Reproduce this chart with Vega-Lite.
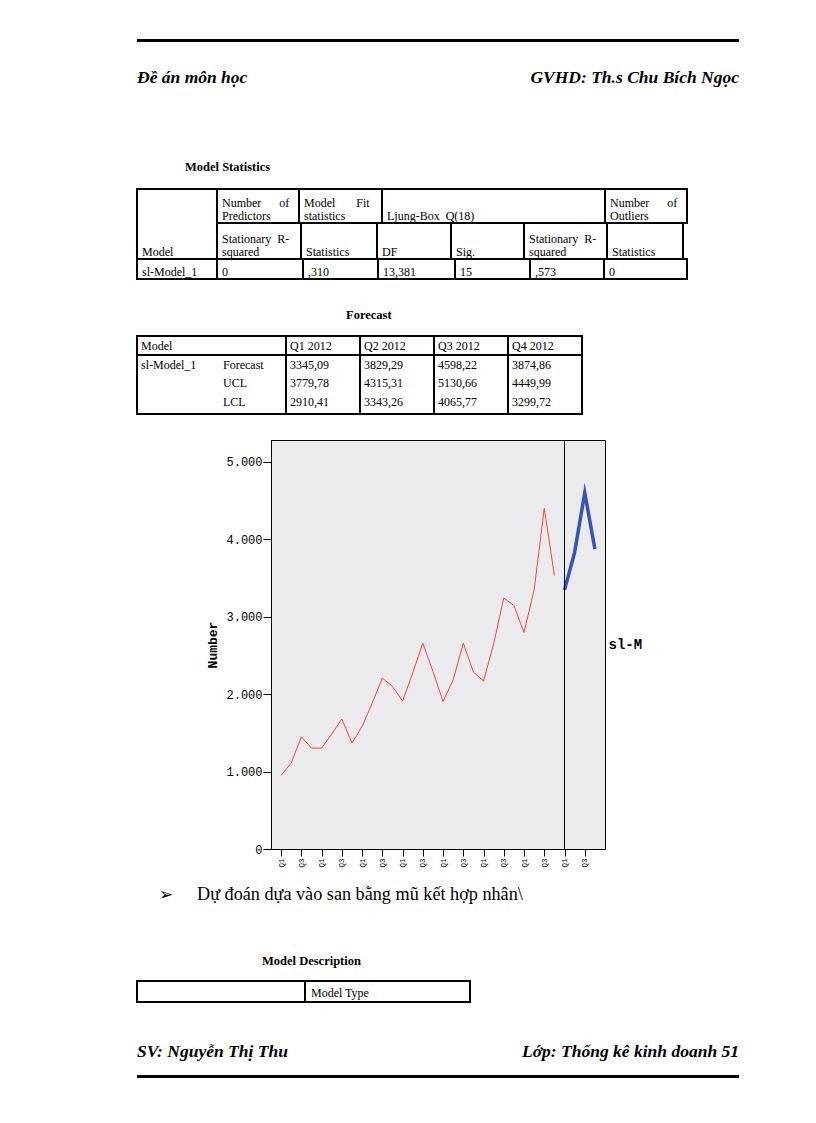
{
 "$schema": "https://vega.github.io/schema/vega-lite/v6.json",
 "padding": {"left": 136, "top": 39, "right": 77, "bottom": 45},
 "autosize": {"type": "pad"},
 "background": "white",
 "data": {"values": [{}]},
 "config": {
  "view": {"stroke": null},
  "text": {"font": "Liberation Serif", "fontSize": 12, "color": "black", "align": "left"}
 },
 "spacing": 0,
 "bounds": "flush",
 "center": true,
 "vconcat": [
  {"width": 602, "height": 3, "mark": {"type": "rect", "color": "black"}},
  {"width": 602, "height": 72,
   "layer": [
    {"mark": {"type": "text", "text": "Đề án môn học", "fontSize": 17.5, "fontStyle": "italic", "fontWeight": "bold", "align": "left"},
     "encoding": {"x": {"datum": 0, "type": "quantitative", "scale": {"domain": [0, 1]}, "axis": null}}},
    {"mark": {"type": "text", "text": "GVHD: Th.s Chu Bích Ngọc", "fontSize": 17.5, "fontStyle": "italic", "fontWeight": "bold", "align": "right"},
     "encoding": {"x": {"datum": 1, "type": "quantitative", "scale": {"domain": [0, 1]}, "axis": null}}}
   ]},
  {"width": 602, "height": 75,
   "mark": {"type": "text", "text": "Model Statistics", "fontWeight": "bold", "fontSize": 12.5, "dx": 48, "dy": 15.5},
   "encoding": {"x": {"datum": 0, "type": "quantitative", "scale": {"domain": [0, 1]}, "axis": null}}},
  {"width": 602, "height": 90,
   "data": {"values": [
    {"c0": 0, "c1": 1, "r0": 0, "r1": 2, "t": [" ", "Model"]},
    {"c0": 0, "c1": 1, "r0": 2, "r1": 3, "t": [" ", "sl-Model_1"]},
    {"c0": 1, "c1": 2, "r0": 0, "r1": 1, "t": ["Number\u00a0\u00a0\u00a0\u00a0\u00a0\u00a0of", "Predictors"]},
    {"c0": 2, "c1": 7, "r0": 0, "r1": 1, "t": ["Model\u00a0\u00a0\u00a0\u00a0\u00a0\u00a0\u00a0Fit", "statistics"]},
    {"c0": 7, "c1": 13, "r0": 0, "r1": 1, "t": [" ", "Ljung-Box\u00a0\u00a0Q(18)"]},
    {"c0": 13, "c1": 16, "r0": 0, "r1": 1, "t": ["Number\u00a0\u00a0\u00a0\u00a0\u00a0\u00a0of", "Outliers"]},
    {"c0": 1, "c1": 3, "r0": 1, "r1": 2, "t": ["Stationary\u00a0\u00a0R-", "squared"]},
    {"c0": 3, "c1": 5, "r0": 1, "r1": 2, "t": [" ", "Statistics"]},
    {"c0": 5, "c1": 8, "r0": 1, "r1": 2, "t": [" ", "DF"]},
    {"c0": 8, "c1": 10, "r0": 1, "r1": 2, "t": [" ", "Sig."]},
    {"c0": 10, "c1": 14, "r0": 1, "r1": 2, "t": ["Stationary\u00a0\u00a0R-", "squared"]},
    {"c0": 14, "c1": 15, "r0": 1, "r1": 2, "t": [" ", "Statistics"]},
    {"c0": 1, "c1": 4, "r0": 2, "r1": 3, "t": [" ", "0"]},
    {"c0": 4, "c1": 6, "r0": 2, "r1": 3, "t": [" ", ",310"]},
    {"c0": 6, "c1": 9, "r0": 2, "r1": 3, "t": [" ", "13,381"]},
    {"c0": 9, "c1": 11, "r0": 2, "r1": 3, "t": [" ", "15"]},
    {"c0": 11, "c1": 12, "r0": 2, "r1": 3, "t": [" ", ",573"]},
    {"c0": 12, "c1": 16, "r0": 2, "r1": 3, "t": [" ", "0"]}
   ]},
   "encoding": {
    "x": {"field": "c0", "type": "quantitative", "axis": null,
     "scale": {"domain": [0,1,2,3,4,5,6,7,8,9,10,11,12,13,14,15,16], "range": [0,80,162,164,166,240,241,245,314,318,387,393,467,468,470,546,550], "nice": false, "zero": false}}
   },
   "layer": [
    {"mark": {"type": "rect", "fill": "transparent", "stroke": "black", "strokeWidth": 2},
     "encoding": {
      "x2": {"field": "c1"},
      "y": {"field": "r0", "type": "quantitative", "axis": null, "scale": {"domain": [0,1,2,3], "range": [0,34,70,90], "nice": false, "zero": false}},
      "y2": {"field": "r1"}}},
    {"mark": {"type": "text", "align": "left", "baseline": "alphabetic", "dx": 5, "dy": -16, "lineHeight": 12.5},
     "encoding": {
      "y": {"field": "r1", "type": "quantitative", "axis": null, "scale": {"domain": [0,1,2,3], "range": [0,34,70,90], "nice": false, "zero": false}},
      "text": {"field": "t", "type": "nominal"}}}
   ]},
  {"width": 602, "height": 57,
   "mark": {"type": "text", "text": "Forecast", "fontWeight": "bold", "fontSize": 12.5, "dx": 209, "dy": 7.5},
   "encoding": {"x": {"datum": 0, "type": "quantitative", "scale": {"domain": [0, 1]}, "axis": null}}},
  {"width": 602, "height": 78,
   "encoding": {
    "x": {"field": "c0", "type": "quantitative", "axis": null,
     "scale": {"domain": [0,1,2,3,4,5,6], "range": [0,82,149,223,297,371,445], "nice": false, "zero": false}}
   },
   "layer": [
    {"data": {"values": [
      {"c0": 0, "c1": 2, "r0": 0, "r1": 1}, {"c0": 2, "c1": 3, "r0": 0, "r1": 1}, {"c0": 3, "c1": 4, "r0": 0, "r1": 1},
      {"c0": 4, "c1": 5, "r0": 0, "r1": 1}, {"c0": 5, "c1": 6, "r0": 0, "r1": 1},
      {"c0": 0, "c1": 2, "r0": 1, "r1": 2}, {"c0": 2, "c1": 3, "r0": 1, "r1": 2}, {"c0": 3, "c1": 4, "r0": 1, "r1": 2},
      {"c0": 4, "c1": 5, "r0": 1, "r1": 2}, {"c0": 5, "c1": 6, "r0": 1, "r1": 2}
     ]},
     "mark": {"type": "rect", "fill": "transparent", "stroke": "black", "strokeWidth": 2},
     "encoding": {
      "x2": {"field": "c1"},
      "y": {"field": "r0", "type": "quantitative", "axis": null, "scale": {"domain": [0,1,2], "range": [0,19,78], "nice": false, "zero": false}},
      "y2": {"field": "r1"}}},
    {"data": {"values": [
      {"c0": 0, "r1": 1, "t": ["Model"]}, {"c0": 2, "r1": 1, "t": ["Q1 2012"]}, {"c0": 3, "r1": 1, "t": ["Q2 2012"]},
      {"c0": 4, "r1": 1, "t": ["Q3 2012"]}, {"c0": 5, "r1": 1, "t": ["Q4 2012"]}
     ]},
     "mark": {"type": "text", "align": "left", "baseline": "bottom", "dx": 4, "dy": -2},
     "encoding": {
      "y": {"field": "r1", "type": "quantitative", "axis": null, "scale": {"domain": [0,1,2], "range": [0,19,78], "nice": false, "zero": false}},
      "text": {"field": "t", "type": "nominal"}}},
    {"data": {"values": [
      {"c0": 0, "r1": 2, "t": ["sl-Model_1", " ", " "]},
      {"c0": 1, "r1": 2, "t": ["Forecast", "UCL", "LCL"]},
      {"c0": 2, "r1": 2, "t": ["3345,09", "3779,78", "2910,41"]},
      {"c0": 3, "r1": 2, "t": ["3829,29", "4315,31", "3343,26"]},
      {"c0": 4, "r1": 2, "t": ["4598,22", "5130,66", "4065,77"]},
      {"c0": 5, "r1": 2, "t": ["3874,86", "4449,99", "3299,72"]}
     ]},
     "mark": {"type": "text", "align": "left", "baseline": "alphabetic", "dx": 4, "dy": -45, "lineHeight": 18.3},
     "encoding": {
      "y": {"field": "r1", "type": "quantitative", "axis": null, "scale": {"domain": [0,1,2], "range": [0,19,78], "nice": false, "zero": false}},
      "text": {"field": "t", "type": "nominal"}}}
   ]},
  {"width": 602, "height": 26, "mark": {"type": "text", "text": ""}},
  {"width": 334, "height": 409,
   "view": {"fill": "#ebeaed", "stroke": "black", "strokeWidth": 1},
   "data": {"values": [
    {"q": "Q1 2005", "v": 950, "s": "obs"},
    {"q": "Q2 2005", "v": 1110, "s": "obs"},
    {"q": "Q3 2005", "v": 1449, "s": "obs"},
    {"q": "Q4 2005", "v": 1303, "s": "obs"},
    {"q": "Q1 2006", "v": 1303, "s": "obs"},
    {"q": "Q2 2006", "v": 1484, "s": "obs"},
    {"q": "Q3 2006", "v": 1677, "s": "obs"},
    {"q": "Q4 2006", "v": 1368, "s": "obs"},
    {"q": "Q1 2007", "v": 1582, "s": "obs"},
    {"q": "Q2 2007", "v": 1884, "s": "obs"},
    {"q": "Q3 2007", "v": 2206, "s": "obs"},
    {"q": "Q4 2007", "v": 2098, "s": "obs"},
    {"q": "Q1 2008", "v": 1910, "s": "obs"},
    {"q": "Q2 2008", "v": 2271, "s": "obs"},
    {"q": "Q3 2008", "v": 2658, "s": "obs"},
    {"q": "Q4 2008", "v": 2292, "s": "obs"},
    {"q": "Q1 2009", "v": 1905, "s": "obs"},
    {"q": "Q2 2009", "v": 2185, "s": "obs"},
    {"q": "Q3 2009", "v": 2658, "s": "obs"},
    {"q": "Q4 2009", "v": 2284, "s": "obs"},
    {"q": "Q1 2010", "v": 2168, "s": "obs"},
    {"q": "Q2 2010", "v": 2650, "s": "obs"},
    {"q": "Q3 2010", "v": 3239, "s": "obs"},
    {"q": "Q4 2010", "v": 3143, "s": "obs"},
    {"q": "Q1 2011", "v": 2795, "s": "obs"},
    {"q": "Q2 2011", "v": 3346, "s": "obs"},
    {"q": "Q3 2011", "v": 4400, "s": "obs"},
    {"q": "Q4 2011", "v": 3530, "s": "obs"},
    {"q": "Q1 2012", "v": 3345.09, "s": "fc"},
    {"q": "Q2 2012", "v": 3829.29, "s": "fc"},
    {"q": "Q3 2012", "v": 4598.22, "s": "fc"},
    {"q": "Q4 2012", "v": 3874.86, "s": "fc"}
   ]},
   "encoding": {
    "x": {"field": "q", "type": "ordinal", "sort": null,
     "scale": {"type": "point", "padding": 2.23, "domain": ["Q1 2005","Q2 2005","Q3 2005","Q4 2005","Q1 2006","Q2 2006","Q3 2006","Q4 2006","Q1 2007","Q2 2007","Q3 2007","Q4 2007","Q1 2008","Q2 2008","Q3 2008","Q4 2008","Q1 2009","Q2 2009","Q3 2009","Q4 2009","Q1 2010","Q2 2010","Q3 2010","Q4 2010","Q1 2011","Q2 2011","Q3 2011","Q4 2011","Q1 2012","Q2 2012","Q3 2012","Q4 2012"]},
     "axis": {"values": ["Q1 2005","Q3 2005","Q1 2006","Q3 2006","Q1 2007","Q3 2007","Q1 2008","Q3 2008","Q1 2009","Q3 2009","Q1 2010","Q3 2010","Q1 2011","Q3 2011","Q1 2012","Q3 2012"],
      "labelExpr": "substring(datum.label, 0, 2)", "labelAngle": -90, "labelFont": "Liberation Mono", "labelFontSize": 7.5, "labelColor": "black",
      "tickSize": 7, "tickColor": "black", "domainColor": "black", "labelPadding": 2, "title": null, "grid": false}},
    "y": {"field": "v", "type": "quantitative",
     "scale": {"domain": [0, 5280], "nice": false, "zero": true},
     "axis": {"orient": "left", "values": [0, 1000, 2000, 3000, 4000, 5000], "labelExpr": "replace(format(datum.value, ','), ',', '.')",
      "title": "Number", "titleFont": "Liberation Mono", "titleFontWeight": "bold", "titleFontSize": 13, "titleColor": "black", "titlePadding": 6,
      "labelFont": "Liberation Mono", "labelFontSize": 12, "labelColor": "black", "labelPadding": 1,
      "tickSize": 8, "tickColor": "black", "domainColor": "black", "grid": false}}
   },
   "layer": [
    {"transform": [{"filter": "datum.s == 'obs'"}], "mark": {"type": "line", "color": "#ff4040", "strokeWidth": 1}},
    {"transform": [{"filter": "datum.s == 'fc'"}], "mark": {"type": "line", "color": "#3653b5", "strokeWidth": 3.5, "strokeMiterLimit": 10},
     "encoding": {"y": {"field": "v", "type": "quantitative",
      "axis": {"orient": "right", "title": "sl-M", "labels": false, "ticks": false, "domain": false, "grid": false,
       "titleAngle": 0, "titleAlign": "left", "titleBaseline": "middle", "titlePadding": 3,
       "titleFont": "Liberation Mono", "titleFontWeight": "bold", "titleFontSize": 14, "titleColor": "black"}}}},
    {"data": {"values": [{"q": "Q1 2012"}]}, "mark": {"type": "rule", "color": "black", "strokeWidth": 1},
     "encoding": {"x": {"field": "q", "type": "ordinal"}, "y": null}}
   ],
   "resolve": {"axis": {"y": "independent"}}
  },
  {"width": 602, "height": 92,
   "layer": [
    {"mark": {"type": "text", "text": "➢", "font": "DejaVu Sans", "fontSize": 17, "dx": 22},
     "encoding": {"x": {"datum": 0, "type": "quantitative", "scale": {"domain": [0, 1]}, "axis": null}}},
    {"mark": {"type": "text", "text": "Dự đoán dựa vào san bằng mũ kết hợp nhân\\", "fontSize": 18.2, "dx": 60},
     "encoding": {"x": {"datum": 0, "type": "quantitative", "scale": {"domain": [0, 1]}, "axis": null}}}
   ]},
  {"width": 602, "height": 40,
   "mark": {"type": "text", "text": "Model Description", "fontWeight": "bold", "fontSize": 12.5, "dx": 125},
   "encoding": {"x": {"datum": 0, "type": "quantitative", "scale": {"domain": [0, 1]}, "axis": null}}},
  {"width": 602, "height": 21,
   "encoding": {
    "x": {"field": "c0", "type": "quantitative", "axis": null, "scale": {"domain": [0, 1, 2], "range": [0, 168, 333], "nice": false, "zero": false}}
   },
   "layer": [
    {"data": {"values": [{"c0": 0, "c1": 1, "r0": 0, "r1": 1}, {"c0": 1, "c1": 2, "r0": 0, "r1": 1}]},
     "mark": {"type": "rect", "fill": "transparent", "stroke": "black", "strokeWidth": 2},
     "encoding": {
      "x2": {"field": "c1"},
      "y": {"field": "r0", "type": "quantitative", "axis": null, "scale": {"domain": [0, 1], "range": [0, 21], "nice": false, "zero": false}},
      "y2": {"field": "r1"}}},
    {"data": {"values": [{"c0": 1, "r1": 1, "t": ["Model Type"]}]},
     "mark": {"type": "text", "align": "left", "baseline": "bottom", "dx": 6, "dy": -2},
     "encoding": {
      "y": {"field": "r1", "type": "quantitative", "axis": null, "scale": {"domain": [0, 1], "range": [0, 21], "nice": false, "zero": false}},
      "text": {"field": "t", "type": "nominal"}}}
   ]},
  {"width": 602, "height": 73,
   "layer": [
    {"mark": {"type": "text", "text": "SV: Nguyễn Thị Thu", "fontSize": 17.5, "fontStyle": "italic", "fontWeight": "bold", "align": "left", "dy": 13.5},
     "encoding": {"x": {"datum": 0, "type": "quantitative", "scale": {"domain": [0, 1]}, "axis": null}}},
    {"mark": {"type": "text", "text": "Lớp: Thống kê kinh doanh 51", "fontSize": 17.5, "fontStyle": "italic", "fontWeight": "bold", "align": "right", "dy": 13.5},
     "encoding": {"x": {"datum": 1, "type": "quantitative", "scale": {"domain": [0, 1]}, "axis": null}}}
   ]},
  {"width": 602, "height": 3, "mark": {"type": "rect", "color": "black"}}
 ]
}
